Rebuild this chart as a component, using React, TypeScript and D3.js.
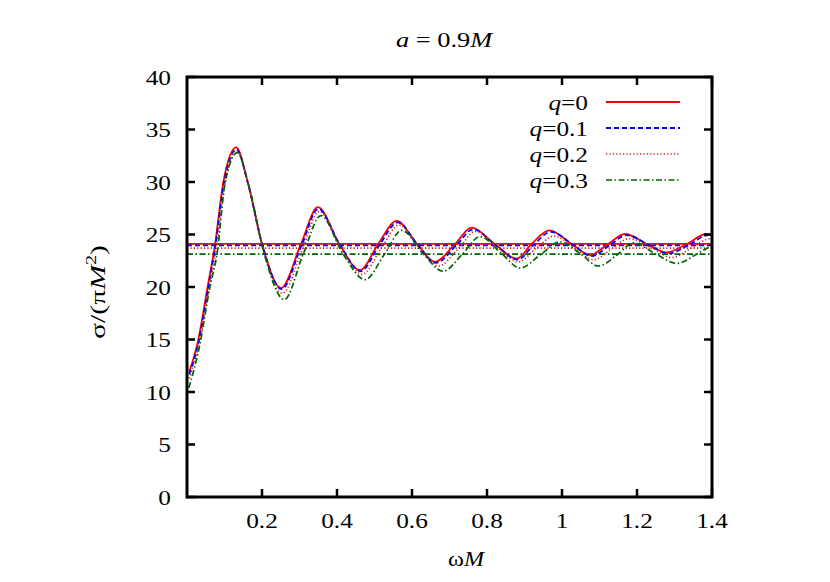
import React from "react";
import * as d3 from "d3";

const W = 830, H = 582;
const M = { left: 187, right: 712, top: 77, bottom: 497 };

const xTicks = [0.2, 0.4, 0.6, 0.8, 1, 1.2, 1.4];
const xTickLabels = ["0.2", "0.4", "0.6", "0.8", "1", "1.2", "1.4"];
const yTicks = [0, 5, 10, 15, 20, 25, 30, 35, 40];

const legendLabels = ["0", "0.1", "0.2", "0.3"];
const geometric = [24.1, 23.97, 23.7, 23.14];

const q0: [number, number][] = [[0.006,11.9],[0.029,14.8],[0.055,20.0],[0.075,24.1],[0.097,30.0],[0.131,33.3],[0.162,30.0],[0.200,24.1],[0.251,19.9],[0.304,24.1],[0.349,27.6],[0.406,24.1],[0.461,21.6],[0.510,24.1],[0.559,26.3],[0.613,24.1],[0.661,22.4],[0.715,24.1],[0.759,25.65],[0.820,24.1],[0.879,22.7],[0.919,24.1],[0.966,25.4],[1.026,24.1],[1.075,23.05],[1.123,24.1],[1.168,25.05],[1.226,24.1],[1.279,23.3],[1.333,24.1],[1.385,25.05],[1.4,25.0]];
const q1: [number, number][] = [[0.006,11.7],[0.030,14.6],[0.056,19.8],[0.076,24.0],[0.098,29.8],[0.132,33.1],[0.163,29.8],[0.201,24.0],[0.252,19.8],[0.306,24.0],[0.350,27.45],[0.408,24.0],[0.463,21.5],[0.513,24.0],[0.562,26.15],[0.616,24.0],[0.664,22.3],[0.719,24.0],[0.763,25.5],[0.823,24.0],[0.882,22.6],[0.924,24.0],[0.971,25.25],[1.030,24.0],[1.079,22.95],[1.128,24.0],[1.173,24.95],[1.231,24.0],[1.284,23.2],[1.338,24.0],[1.39,24.95],[1.4,24.93]];
const q2: [number, number][] = [[0.006,11.3],[0.031,14.4],[0.058,19.6],[0.078,23.7],[0.1,29.5],[0.132,33.0],[0.164,29.6],[0.203,23.7],[0.254,19.4],[0.309,23.7],[0.352,27.2],[0.411,23.7],[0.467,21.2],[0.518,23.7],[0.565,25.9],[0.62,23.7],[0.671,22.0],[0.725,23.7],[0.769,25.3],[0.83,23.7],[0.883,22.4],[0.932,23.7],[0.978,24.85],[1.035,23.7],[1.085,22.6],[1.135,23.7],[1.178,24.6],[1.24,23.7],[1.292,22.8],[1.345,23.7],[1.395,24.6],[1.4,24.58]];
const q3: [number, number][] = [[0.005,10.4],[0.033,14.3],[0.061,20.0],[0.08,23.15],[0.102,30.0],[0.134,32.8],[0.166,29.5],[0.206,23.15],[0.2595,18.8],[0.31,23.15],[0.357,26.8],[0.416,23.15],[0.475,20.7],[0.527,23.15],[0.5725,25.4],[0.63,23.15],[0.683,21.5],[0.735,23.15],[0.781,24.8],[0.84,23.15],[0.888,21.8],[0.945,23.15],[0.995,24.3],[1.05,23.15],[1.097,22.0],[1.15,23.15],[1.19,24.2],[1.25,23.15],[1.306,22.25],[1.36,23.15],[1.4,24.0]];

const seriesData = [q0, q1, q2, q3];
const styles = [
  { color: "#ff0000", dash: "none", width: 1.8 },
  { color: "#0000ff", dash: "5,3", width: 1.8 },
  { color: "#d02020", dash: "1.2,2.2", width: 1.6 },
  { color: "#006400", dash: "6,2.5,1.5,2.5", width: 1.7 },
];

const FONT = "'Liberation Serif', 'Times New Roman', serif";
const FS = 22;
const SX = 1.15;

function T({ x, y, anchor, rot = 0, sx = SX, size = FS, children }: any) {
  return (
    <g transform={`translate(${x},${y}) rotate(${rot}) scale(${sx},1)`}>
      <text x={0} y={0} textAnchor={anchor} style={{ fontFamily: FONT, fontSize: size }} fill="#000">
        {children}
      </text>
    </g>
  );
}

export default function App() {
  const x = d3.scaleLinear().domain([0, 1.4]).range([M.left, M.right]);
  const y = d3.scaleLinear().domain([0, 40]).range([M.bottom, M.top]);
  const line = d3
    .line<[number, number]>()
    .x((d) => x(d[0]))
    .y((d) => y(d[1]))
    .curve(d3.curveMonotoneX);
  const tl = 8;
  return (
    <svg width={W} height={H} style={{ position: "absolute", left: 0, top: 0, background: "#fff" }}>
      <defs>
        <clipPath id="plot">
          <rect x={M.left} y={M.top} width={M.right - M.left} height={M.bottom - M.top} />
        </clipPath>
      </defs>
      <T x={396} y={47} anchor="start" size={22} sx={1.2}>
        <tspan fontStyle="italic">a</tspan> = 0.9<tspan fontStyle="italic">M</tspan>
      </T>
      {yTicks.map((t) => (
        <T key={"yl" + t} x={171} y={y(t) + 7.5} anchor="end">
          {t}
        </T>
      ))}
      {xTicks.map((t, i) => (
        <T key={"xl" + t} x={x(t)} y={528} anchor="middle">
          {xTickLabels[i]}
        </T>
      ))}
      <T x={448} y={566} anchor="start" size={22} sx={1.1}>
        ω<tspan fontStyle="italic">M</tspan>
      </T>
      <T x={105} y={292} anchor="middle" rot={-90} sx={1.35}>
        σ/(π<tspan fontStyle="italic">M</tspan>
        <tspan dy={-9} fontSize={15}>2</tspan>
        <tspan dy={9}>)</tspan>
      </T>
      <g clipPath="url(#plot)">
        {geometric.map((g, i) => (
          <line
            key={"g" + i}
            x1={x(0)}
            x2={x(1.4)}
            y1={y(g)}
            y2={y(g)}
            stroke={styles[i].color}
            strokeWidth={styles[i].width}
            strokeDasharray={styles[i].dash}
          />
        ))}
        {seriesData.map((s, i) => (
          <path
            key={"s" + i}
            d={line(s) || ""}
            fill="none"
            stroke={styles[i].color}
            strokeWidth={styles[i].width}
            strokeDasharray={styles[i].dash}
          />
        ))}
      </g>
      <g stroke="#000" strokeWidth={2.5}>
        {xTicks.map((t) => (
          <g key={"xt" + t}>
            <line x1={x(t)} x2={x(t)} y1={M.bottom} y2={M.bottom - tl} />
            <line x1={x(t)} x2={x(t)} y1={M.top} y2={M.top + tl} />
          </g>
        ))}
        {yTicks.map((t) => (
          <g key={"yt" + t}>
            <line x1={M.left} x2={M.left + tl} y1={y(t)} y2={y(t)} />
            <line x1={M.right} x2={M.right - tl} y1={y(t)} y2={y(t)} />
          </g>
        ))}
      </g>
      <rect
        x={M.left}
        y={M.top}
        width={M.right - M.left}
        height={M.bottom - M.top}
        fill="none"
        stroke="#000"
        strokeWidth={3}
      />
      {legendLabels.map((l, i) => {
        const ly = 102 + i * 26;
        return (
          <g key={"lg" + i}>
            <T x={588} y={ly + 7.5} anchor="end">
              <tspan fontStyle="italic">q</tspan>={l}
            </T>
            <line
              x1={606}
              x2={680}
              y1={ly}
              y2={ly}
              stroke={styles[i].color}
              strokeWidth={styles[i].width}
              strokeDasharray={styles[i].dash}
            />
          </g>
        );
      })}
    </svg>
  );
}
